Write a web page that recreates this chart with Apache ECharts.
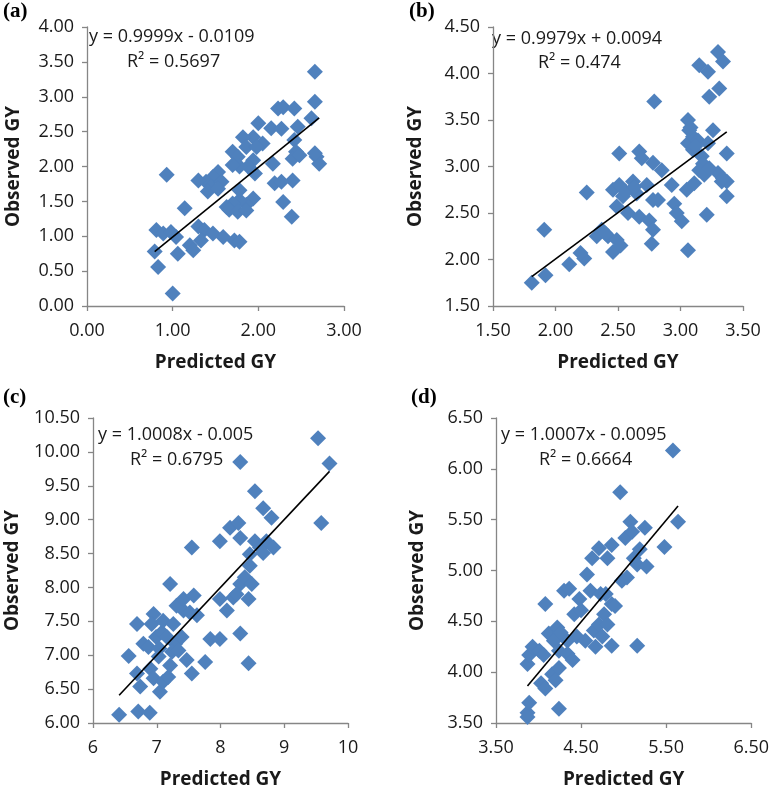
<!DOCTYPE html>
<html>
<head>
<meta charset="utf-8">
<script src="https://cdn.jsdelivr.net/npm/echarts@6/dist/echarts.min.js"></script>
<style>
html,body{margin:0;padding:0;background:#fff;}
#chart{width:772px;height:790px;}
</style>
</head>
<body>
<div id="chart"></div>
<script>
// ---- data ----
const panelLabels = ['(a)', '(b)', '(c)', '(d)'];
const xTitle = 'Predicted GY';
const yTitle = 'Observed GY';

const aPred = [2.66,2.66,2.62,2.68,2.71,2.66,2.23,2.29,2.42,2.15,2.27,2.46,2.42,2.44,2.40,2.48,2.40,2.17,2.19,2.27,2.29,2.39,2.00,2.05,1.94,1.82,1.70,1.76,1.86,1.98,1.94,1.88,1.78,1.70,1.96,1.94,1.86,1.78,1.70,1.63,1.66,1.76,1.86,1.78,1.72,1.78,1.53,1.47,1.39,1.45,1.57,1.41,1.53,1.30,1.14,0.93,1.30,1.37,1.33,1.47,1.59,1.20,1.24,1.06,0.81,0.89,0.98,1.04,0.79,0.83,1.00];
const aObs  = [3.36,2.93,2.69,2.14,2.04,2.19,2.83,2.85,2.83,2.55,2.54,2.57,2.38,2.21,2.11,2.16,1.80,2.04,1.76,1.78,1.49,1.28,2.62,2.33,2.42,2.42,2.21,2.14,2.28,2.28,2.09,2.00,2.00,2.02,1.90,1.54,1.45,1.52,1.47,1.42,1.38,1.35,1.37,1.66,0.94,0.92,1.92,1.85,1.78,1.71,1.78,1.64,1.68,1.80,1.40,1.88,1.14,1.09,0.94,1.04,0.99,0.87,0.80,0.75,1.09,1.04,1.06,0.99,0.78,0.56,0.18];

const bPred = [1.81,1.92,1.91,2.11,2.23,2.20,2.25,2.33,2.37,2.42,2.46,2.49,2.52,2.46,2.51,2.51,2.49,2.54,2.58,2.62,2.65,2.67,2.67,2.69,2.73,2.75,2.78,2.77,2.78,2.82,2.78,2.85,2.79,2.93,2.95,2.97,3.01,3.06,3.05,3.11,3.06,3.07,3.06,3.10,3.10,3.14,3.17,3.18,3.15,3.19,3.22,3.15,3.22,3.23,3.26,3.21,3.30,3.34,3.31,3.30,3.33,3.37,3.37,3.37,3.34,3.23,2.56,2.40,2.63,3.08,3.12];
const bObs  = [1.75,1.83,2.32,1.95,2.01,2.07,2.72,2.25,2.32,2.25,2.08,2.21,2.15,2.75,2.80,3.14,2.57,2.68,2.50,2.84,2.71,2.46,3.16,3.09,2.80,2.42,2.32,2.17,2.64,2.64,3.04,2.96,3.70,2.80,2.60,2.50,2.41,2.10,2.75,2.82,3.50,3.39,3.25,3.32,3.18,3.28,3.11,3.03,2.96,2.91,3.25,4.09,4.02,3.75,3.39,2.48,4.23,4.13,3.84,2.93,2.84,3.14,2.68,2.84,2.87,2.98,2.73,2.28,2.78,3.42,3.22];

const cPred = [6.41,6.71,6.89,6.56,6.69,6.74,6.69,6.79,6.87,6.90,6.95,6.95,6.92,6.99,7.04,7.03,7.08,7.10,7.05,7.10,7.18,7.21,7.21,7.16,7.26,7.29,7.24,7.31,7.34,7.39,7.42,7.42,7.47,7.55,7.55,7.58,7.63,7.52,7.76,7.84,7.99,7.99,7.99,8.10,8.20,8.15,8.28,8.31,8.31,8.31,8.31,8.38,8.44,8.44,8.46,8.49,8.46,8.54,8.54,8.62,8.67,8.72,8.80,8.83,8.67,9.53,9.58,9.71,8.25];
const cObs  = [6.12,6.17,6.15,6.99,6.73,6.54,7.46,7.17,7.12,6.80,6.66,7.61,7.46,7.27,7.10,6.98,7.34,7.51,6.46,6.61,6.68,6.85,8.05,7.27,7.46,7.17,7.05,7.73,7.07,7.27,7.66,7.83,6.93,6.73,8.59,7.88,7.59,7.63,6.90,7.24,7.24,7.83,8.68,7.66,7.85,8.88,8.95,8.73,9.85,8.05,7.32,8.15,7.83,6.88,8.49,8.05,8.32,9.42,8.68,8.59,9.17,8.68,9.03,8.59,8.51,10.20,8.95,9.83,7.90];

const dPred = [3.87,3.89,3.87,4.24,3.87,3.89,3.93,4.01,4.03,4.08,4.06,4.08,4.12,4.16,4.20,4.24,4.18,4.22,4.26,4.24,4.30,4.36,4.34,4.34,4.40,4.42,4.48,4.45,4.50,4.55,4.57,4.61,4.63,4.67,4.65,4.71,4.71,4.73,4.75,4.77,4.79,4.81,4.81,4.86,4.86,4.90,4.86,4.96,4.98,5.02,5.04,5.08,5.10,5.12,5.16,5.19,5.16,5.25,5.27,5.48,5.58,5.64];
const dObs  = [3.60,3.70,3.56,3.64,4.08,4.17,4.25,4.21,3.89,3.84,4.17,4.67,4.38,3.98,3.92,4.04,4.31,4.44,4.39,4.21,4.80,4.82,4.31,4.18,4.12,4.57,4.72,4.35,4.61,4.31,4.96,4.80,5.12,4.25,4.41,4.47,5.22,4.77,4.35,4.57,4.77,5.12,4.47,4.67,5.25,4.65,4.26,5.77,4.90,5.32,4.93,5.48,5.38,5.12,5.06,5.21,4.26,5.42,5.04,5.23,6.18,5.48];

const slopes = [0.9999, 0.9979, 1.0008, 1.0007];
const intercepts = [-0.0109, 0.0094, -0.005, -0.0095];
const eqTexts = ['y = 0.9999x - 0.0109', 'y = 0.9979x + 0.0094', 'y = 1.0008x - 0.005', 'y = 1.0007x - 0.0095'];
const r2Texts = ['R² = 0.5697', 'R² = 0.474', 'R² = 0.6795', 'R² = 0.6664'];

// axis ranges / tick values
const xMins = [0, 1.5, 6, 3.5], xMaxs = [3, 3.5, 10, 6.5];
const xTicks = [[0,1,2,3],[1.5,2,2.5,3,3.5],[6,7,8,9,10],[3.5,4.5,5.5,6.5]];
const yMins = [0, 1.5, 6, 3.5], yMaxs = [4, 4.5, 10.5, 6.5], yStep = 0.5;

// ---- layout (styles) ----
const grids = [
  {left: 87, top: 27, width: 257, height: 279},
  {left: 493, top: 27, width: 250, height: 279},
  {left: 93, top: 418, width: 255, height: 308},
  {left: 496, top: 418, width: 257, height: 308}
];
const yNameGaps = [64, 68, 71, 69];
const labelPos = [[3, 1], [409, 1], [3, 387], [411, 387]];
const eqPos = [[89, 28], [492, 30], [98, 426], [501, 426]];
const r2Pos = [[127, 53], [538, 54], [130, 451], [539, 451]];
const xDecimals = [2, 2, 0, 2];

const FONT = '"Open Sans", sans-serif';
const AXIS_COLOR = '#868686';
const TEXT_COLOR = '#1a1a1a';
const MARK_COLOR = '#4F81BD';

const preds = [aPred, bPred, cPred, dPred];
const obss = [aObs, bObs, cObs, dObs];

const option = {
  animation: false,
  backgroundColor: '#ffffff',
  grid: grids.map(g => Object.assign({containLabel: false}, g)),
  xAxis: grids.map((g, i) => ({
    type: 'value', gridIndex: i, min: xMins[i], max: xMaxs[i],
    name: xTitle, nameLocation: 'middle', nameGap: 47,
    nameTextStyle: {fontFamily: FONT, fontSize: 19, fontWeight: 'bold', color: TEXT_COLOR},
    axisLine: {show: true, onZero: false, lineStyle: {color: AXIS_COLOR, width: 1.3}},
    axisTick: {show: true, length: 5, inside: false, customValues: xTicks[i], lineStyle: {color: AXIS_COLOR, width: 1.3}},
    axisLabel: {customValues: xTicks[i], margin: 16, fontFamily: FONT, fontSize: 18, color: TEXT_COLOR,
      formatter: v => Number(v).toFixed(xDecimals[i])},
    splitLine: {show: false}
  })),
  yAxis: grids.map((g, i) => ({
    type: 'value', gridIndex: i, min: yMins[i], max: yMaxs[i], interval: yStep,
    name: yTitle, nameLocation: 'middle', nameGap: yNameGaps[i],
    nameTextStyle: {fontFamily: FONT, fontSize: 19, fontWeight: 'bold', color: TEXT_COLOR},
    axisLine: {show: true, onZero: false, lineStyle: {color: AXIS_COLOR, width: 1.3}},
    axisTick: {show: true, length: 5, inside: false, lineStyle: {color: AXIS_COLOR, width: 1.3}},
    axisLabel: {margin: 13, fontFamily: FONT, fontSize: 18, color: TEXT_COLOR,
      formatter: v => Number(v).toFixed(2)},
    splitLine: {show: false}
  })),
  series: [],
  graphic: []
};

for (let i = 0; i < 4; i++) {
  const px = preds[i], ob = obss[i];
  option.series.push({
    type: 'scatter', xAxisIndex: i, yAxisIndex: i,
    symbol: 'diamond', symbolSize: 16,
    itemStyle: {color: MARK_COLOR, opacity: 1},
    data: px.map((x, k) => [x, ob[k]]),
    z: 2
  });
  const lo = Math.min(...px), hi = Math.max(...px);
  option.series.push({
    type: 'line', xAxisIndex: i, yAxisIndex: i,
    symbol: 'none', silent: true,
    lineStyle: {color: '#000000', width: 1.6},
    data: [[lo, slopes[i] * lo + intercepts[i]], [hi, slopes[i] * hi + intercepts[i]]],
    z: 5
  });
  option.graphic.push({
    type: 'text', left: labelPos[i][0], top: labelPos[i][1],
    style: {text: panelLabels[i], fontFamily: '"Liberation Serif", "Times New Roman", serif', fontSize: 21, fontWeight: 'bold', fill: '#000'}
  });
  option.graphic.push({
    type: 'text', left: eqPos[i][0], top: eqPos[i][1],
    style: {text: eqTexts[i], fontFamily: FONT, fontSize: 18, fill: TEXT_COLOR}
  });
  option.graphic.push({
    type: 'text', left: r2Pos[i][0], top: r2Pos[i][1],
    style: {text: r2Texts[i], fontFamily: FONT, fontSize: 18, fill: TEXT_COLOR}
  });
}

const chart = echarts.init(document.getElementById('chart'), null, {renderer: 'canvas'});
chart.setOption(option);
</script>
</body>
</html>
